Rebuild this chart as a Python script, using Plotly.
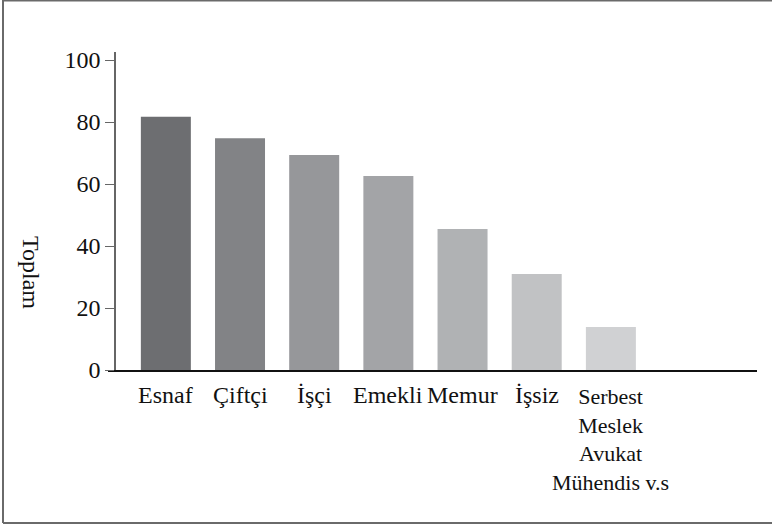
import plotly.graph_objects as go

# Meslek gruplarına göre toplamlar
meslekler = ["Esnaf", "Çiftçi", "İşçi", "Emekli", "Memur", "İşsiz",
             "Serbest<br>Meslek<br>Avukat<br>Mühendis v.s"]
toplam = [81.7, 74.8, 69.4, 62.6, 45.5, 31.0, 13.9]
renkler = ["#6d6e71", "#828386", "#96979a", "#a3a4a7", "#b0b2b4", "#c1c2c4", "#d0d1d3"]
y_ticks = [0, 20, 40, 60, 80, 100]

W, H = 772, 527
L, R, T, B = 108, 15, 52, 157
pw, ph = W - L - R, H - T - B

fig = go.Figure()
fig.add_trace(go.Bar(x=meslekler, y=toplam, marker_color=renkler,
                     marker_line_width=0, width=0.674, hoverinfo="skip"))

serif = "Liberation Serif"

# kategori etiketleri (son etiket daha küçük)
for i, m in enumerate(meslekler):
    son = i == len(meslekler) - 1
    fig.add_annotation(x=m, y=0, xref="x", yref="y", text=m, showarrow=False,
                       yanchor="top", xanchor="center", yshift=-10 if not son else -12,
                       font=dict(family=serif, size=22 if son else 24, color="#111"))

fig.add_annotation(x=(31 - L) / pw, y=(370 - 272) / ph, xref="paper", yref="paper",
                   text="Toplam", textangle=90, showarrow=False,
                   xanchor="center", yanchor="middle",
                   font=dict(family=serif, size=24, color="#111"))

# çerçeve (sol, üst, alt)
px = lambda v: (v - L) / pw
py = lambda v: (370 - v) / ph
cerceve = dict(color="#6a6a6a", width=2)
fig.add_shape(type="line", xref="paper", yref="paper", x0=px(3), x1=px(3),
              y0=py(0), y1=py(523), line=cerceve)
fig.add_shape(type="line", xref="paper", yref="paper", x0=px(3), x1=px(W),
              y0=py(0.5), y1=py(0.5), line=cerceve)
fig.add_shape(type="line", xref="paper", yref="paper", x0=px(3), x1=px(W),
              y0=py(523), y1=py(523), line=cerceve)

fig.update_layout(
    width=W, height=H, margin=dict(l=L, r=R, t=T, b=B),
    paper_bgcolor="white", plot_bgcolor="white", showlegend=False,
    font=dict(family=serif, color="#111"),
    xaxis=dict(range=[-0.78, 7.97], showline=True, linecolor="#111", linewidth=1.5,
               showticklabels=False, ticks="", showgrid=False, zeroline=False),
    yaxis=dict(range=[0, 102.6], anchor="free", position=(115 - L) / pw,
               showline=True, linecolor="#666", linewidth=1.5,
               ticks="outside", ticklen=9, tickcolor="#666", tickwidth=1,
               tickvals=y_ticks, tickfont=dict(family=serif, size=24, color="#111"),
               showgrid=False, zeroline=False),
)

fig.write_html("out.html", config={"displayModeBar": False},
               post_script="document.body.style.margin='0';")
